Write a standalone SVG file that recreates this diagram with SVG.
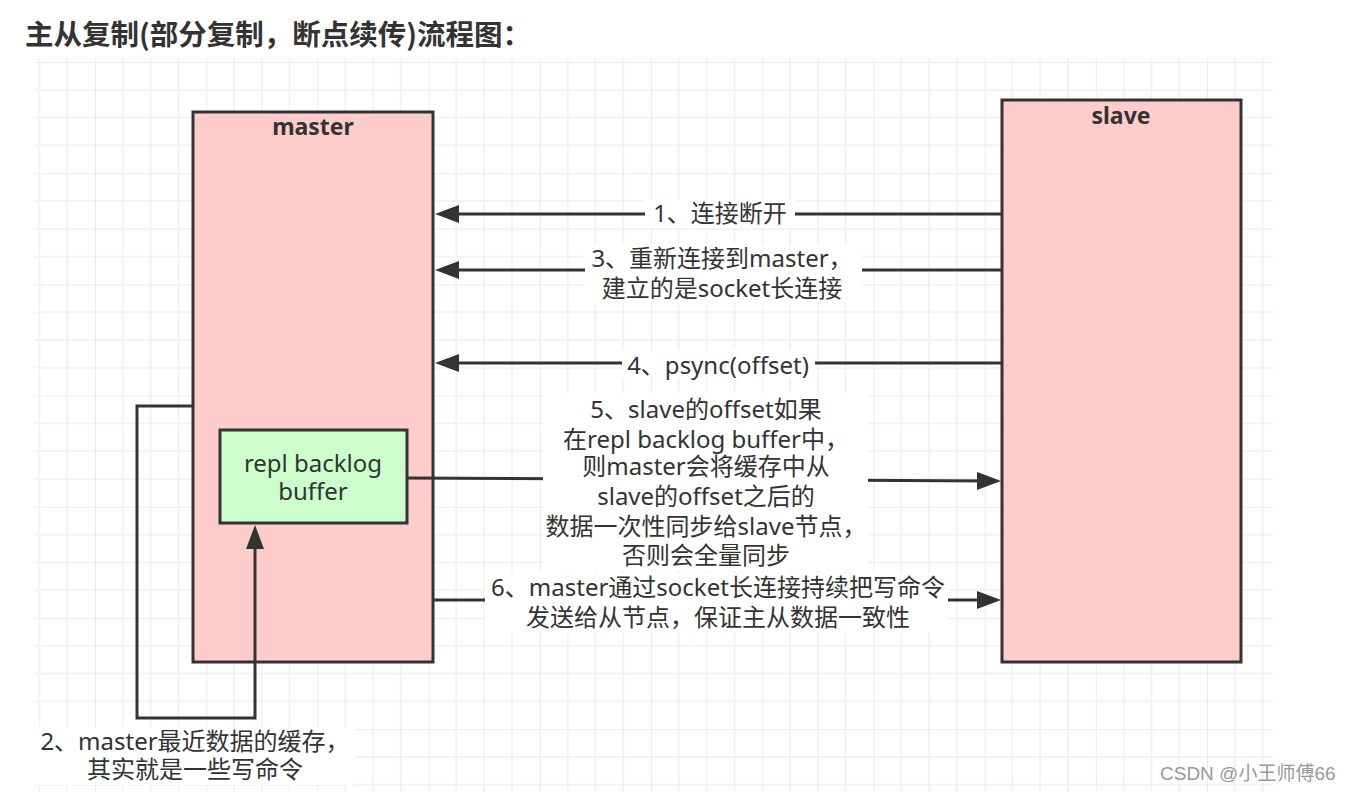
<svg xmlns="http://www.w3.org/2000/svg" width="1352" height="792" viewBox="0 0 1352 792">
<style>
.t{font-family:"Noto Sans","Noto Sans CJK SC",sans-serif;font-size:24px;fill:#333;text-anchor:middle}
.title{font-family:"Noto Sans CJK SC","Noto Sans",sans-serif;font-size:28.5px;font-weight:bold;fill:#333}
.hd{font-family:"Noto Sans","Noto Sans CJK SC",sans-serif;font-size:23px;font-weight:bold;fill:#333;text-anchor:middle}
.box{fill:#ffcccc;stroke:#333;stroke-width:3}
.green{fill:#ccffcc;stroke:#333;stroke-width:3}
.edge{fill:none;stroke:#333;stroke-width:3}
.lbg{fill:#fff}
.wm{font-family:"Liberation Sans","Noto Sans CJK SC",sans-serif;font-size:19px;fill:#999}
</style>
<defs>
<pattern id="grid" x="95" y="62" width="111.2" height="111.2" patternUnits="userSpaceOnUse">
<path d="M27.8,0V111.2M55.6,0V111.2M83.4,0V111.2M0,27.8H111.2M0,55.6H111.2M0,83.4H111.2" stroke="#f0f0f0" stroke-width="1.5" fill="none"/>
<path d="M0,0V111.2M0,0H111.2" stroke="#e6e6e6" stroke-width="1.5" fill="none"/>
</pattern>
<marker id="arr" markerUnits="userSpaceOnUse" markerWidth="26" markerHeight="20" refX="16" refY="9" orient="auto">
<path d="M0,0L24,9L0,18z" fill="#333"/>
</marker>
</defs>
<rect width="1352" height="792" fill="#fff"/>
<rect x="35" y="58" width="1238" height="734" fill="url(#grid)"/>
<text class="title" x="25" y="45">主从复制(部分复制，断点续传)流程图：</text>

<g id="master">
<rect class="box" x="193" y="112" width="240" height="550"/>
<text class="hd" x="313" y="135">master</text>
</g>
<g id="slave">
<rect class="box" x="1002" y="100" width="239" height="562"/>
<text class="hd" x="1121" y="124">slave</text>
</g>
<g id="repl-backlog-buffer">
<rect class="green" x="220" y="430" width="187" height="93"/>
<text class="t" x="313" y="472">repl backlog</text>
<text class="t" x="313" y="500">buffer</text>
</g>

<g id="connectors">
<path class="edge" d="M1002,214H443" marker-end="url(#arr)"/>
<path class="edge" d="M1002,270H443" marker-end="url(#arr)"/>
<path class="edge" d="M1002,363H443" marker-end="url(#arr)"/>
<path class="edge" d="M407,478L993,481" marker-end="url(#arr)"/>
<path class="edge" d="M433,600H993" marker-end="url(#arr)"/>
<path class="edge" d="M193,406H137V718H255V533" marker-end="url(#arr)"/>
</g>

<g id="labels">
<rect class="lbg" x="645" y="200" width="150" height="28"/>
<text class="t" x="720" y="222">1、连接断开</text>
<rect class="lbg" x="585" y="245" width="277" height="58"/>
<text class="t" x="722" y="267">3、重新连接到master，</text>
<text class="t" x="722" y="297">建立的是socket长连接</text>
<rect class="lbg" x="622" y="350" width="193" height="28"/>
<text class="t" x="718" y="374">4、psync(offset)</text>
<rect class="lbg" x="543" y="393" width="325" height="178"/>
<text class="t" x="706" y="418">5、slave的offset如果</text>
<text class="t" x="706" y="448">在repl backlog buffer中，</text>
<text class="t" x="706" y="475">则master会将缓存中从</text>
<text class="t" x="706" y="505">slave的offset之后的</text>
<text class="t" x="706" y="535">数据一次性同步给slave节点，</text>
<text class="t" x="706" y="564">否则会全量同步</text>
<rect class="lbg" x="485" y="573" width="463" height="60"/>
<text class="t" x="718" y="596">6、master通过socket长连接持续把写命令</text>
<text class="t" x="718" y="626">发送给从节点，保证主从数据一致性</text>
<rect class="lbg" x="35" y="727" width="320" height="58"/>
<text class="t" x="195" y="750">2、master最近数据的缓存，</text>
<text class="t" x="195" y="778">其实就是一些写命令</text>
</g>
<text class="wm" x="1160" y="780">CSDN @小王师傅66</text>
</svg>
